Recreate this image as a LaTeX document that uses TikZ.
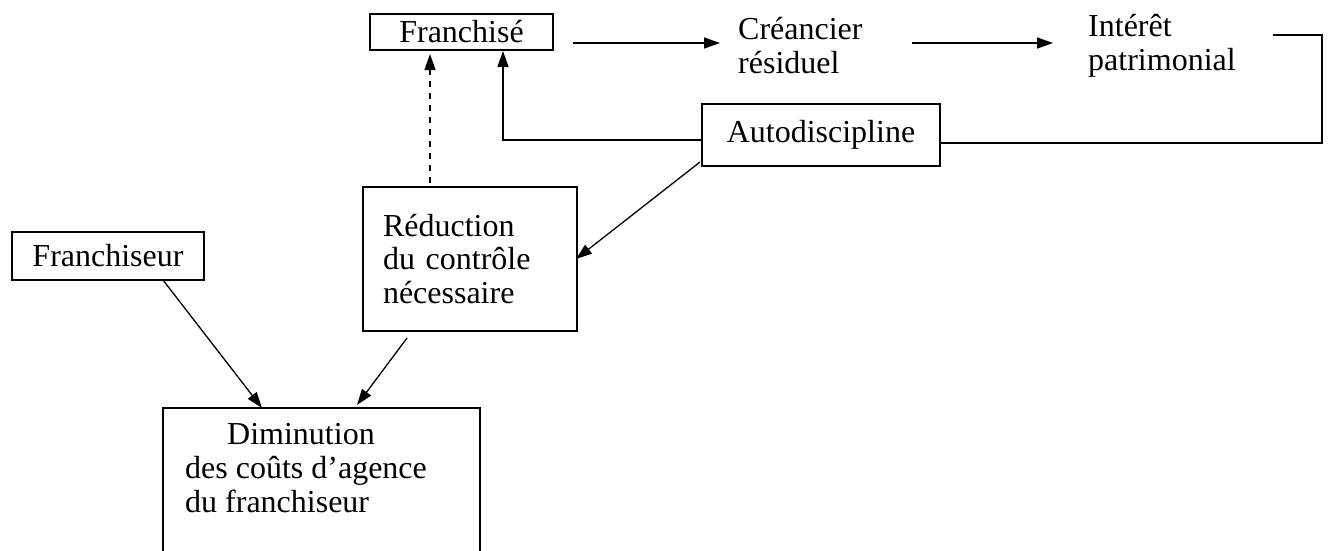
\documentclass[tikz,border=0pt]{standalone}
\usepackage{fontspec}
\setmainfont{Liberation Serif}
\usetikzlibrary{arrows.meta,positioning}
\newcommand{\fsz}{\fontsize{32}{33.5}\selectfont}
\newcommand{\fszb}{\fontsize{32}{34}\selectfont}
\tikzset{
  boxnode/.style={draw, line width=1.3pt, rectangle, inner sep=0pt, font=\fsz, align=left},
  txt/.style={inner sep=0pt, font=\fsz, align=left},
  conn/.style={line width=1.3pt, -{Triangle[length=16pt,width=11pt]}},
  plainconn/.style={line width=1.3pt},
  dashconn/.style={line width=1.3pt, dash pattern=on 6pt off 6pt, -{Triangle[length=16pt,width=11pt]}}
}
\begin{document}
\begin{tikzpicture}[x=1pt,y=-1pt]
\useasboundingbox (0,0) rectangle (1329,550);
% nodes
\node[boxnode, minimum width=183pt, minimum height=36pt] (fr) at (461.5,32) {Franchisé};
\node[txt, anchor=base west] (cr) at (738,73) {Créancier\\résiduel};
\node[txt, anchor=base west] (ip) at (1088,70) {Intérêt\\patrimonial};
\node[boxnode, minimum width=238pt, minimum height=62pt] (ad) at (821,135) {Autodiscipline};
\node[boxnode, text width=174pt, inner xsep=20pt, minimum height=144pt] (re) at (470,259) {Réduction\\du contrôle\\nécessaire};
\node[boxnode, minimum width=192pt, minimum height=48pt] (fs) at (108,256) {Franchiseur};
\node[boxnode, minimum width=317pt, minimum height=152pt] (di) at (321.5,484) {};
\node[txt, font=\fszb, anchor=base west] (dt) at (185,512) {\hspace*{42pt}Diminution\\des coûts d’agence\\du franchiseur};
% coordinates
\coordinate (a1s) at (573,43);
\coordinate (a1e) at (720,43);
\coordinate (a2s) at (912,43);
\coordinate (a2e) at (1053,43);
\coordinate (ipr) at (1273,35);
\coordinate (ipc) at (1322,35);
\coordinate (ipd) at (1322,143);
\coordinate (adr) at (940,143);
\coordinate (adl) at (702,140);
\coordinate (adc) at (503,140);
\coordinate (fru) at (503,51);
\coordinate (das) at (430,183);
\coordinate (dae) at (430,54);
\coordinate (ads) at (700,162);
\coordinate (ree) at (576,259);
\coordinate (fss) at (163,280);
\coordinate (die1) at (262,408);
\coordinate (res) at (407,338);
\coordinate (die2) at (357,405);
% connectors
\draw[conn] (a1s) -- (a1e);
\draw[conn] (a2s) -- (a2e);
\draw[plainconn] (ipr) -- (ipc) -- (ipd) -- (adr);
\draw[conn] (adl) -- (adc) -- (fru);
\draw[dashconn] (das) -- (dae);
\draw[conn] (ads) -- (ree);
\draw[conn] (fss) -- (die1);
\draw[conn] (res) -- (die2);
\end{tikzpicture}
\end{document}
